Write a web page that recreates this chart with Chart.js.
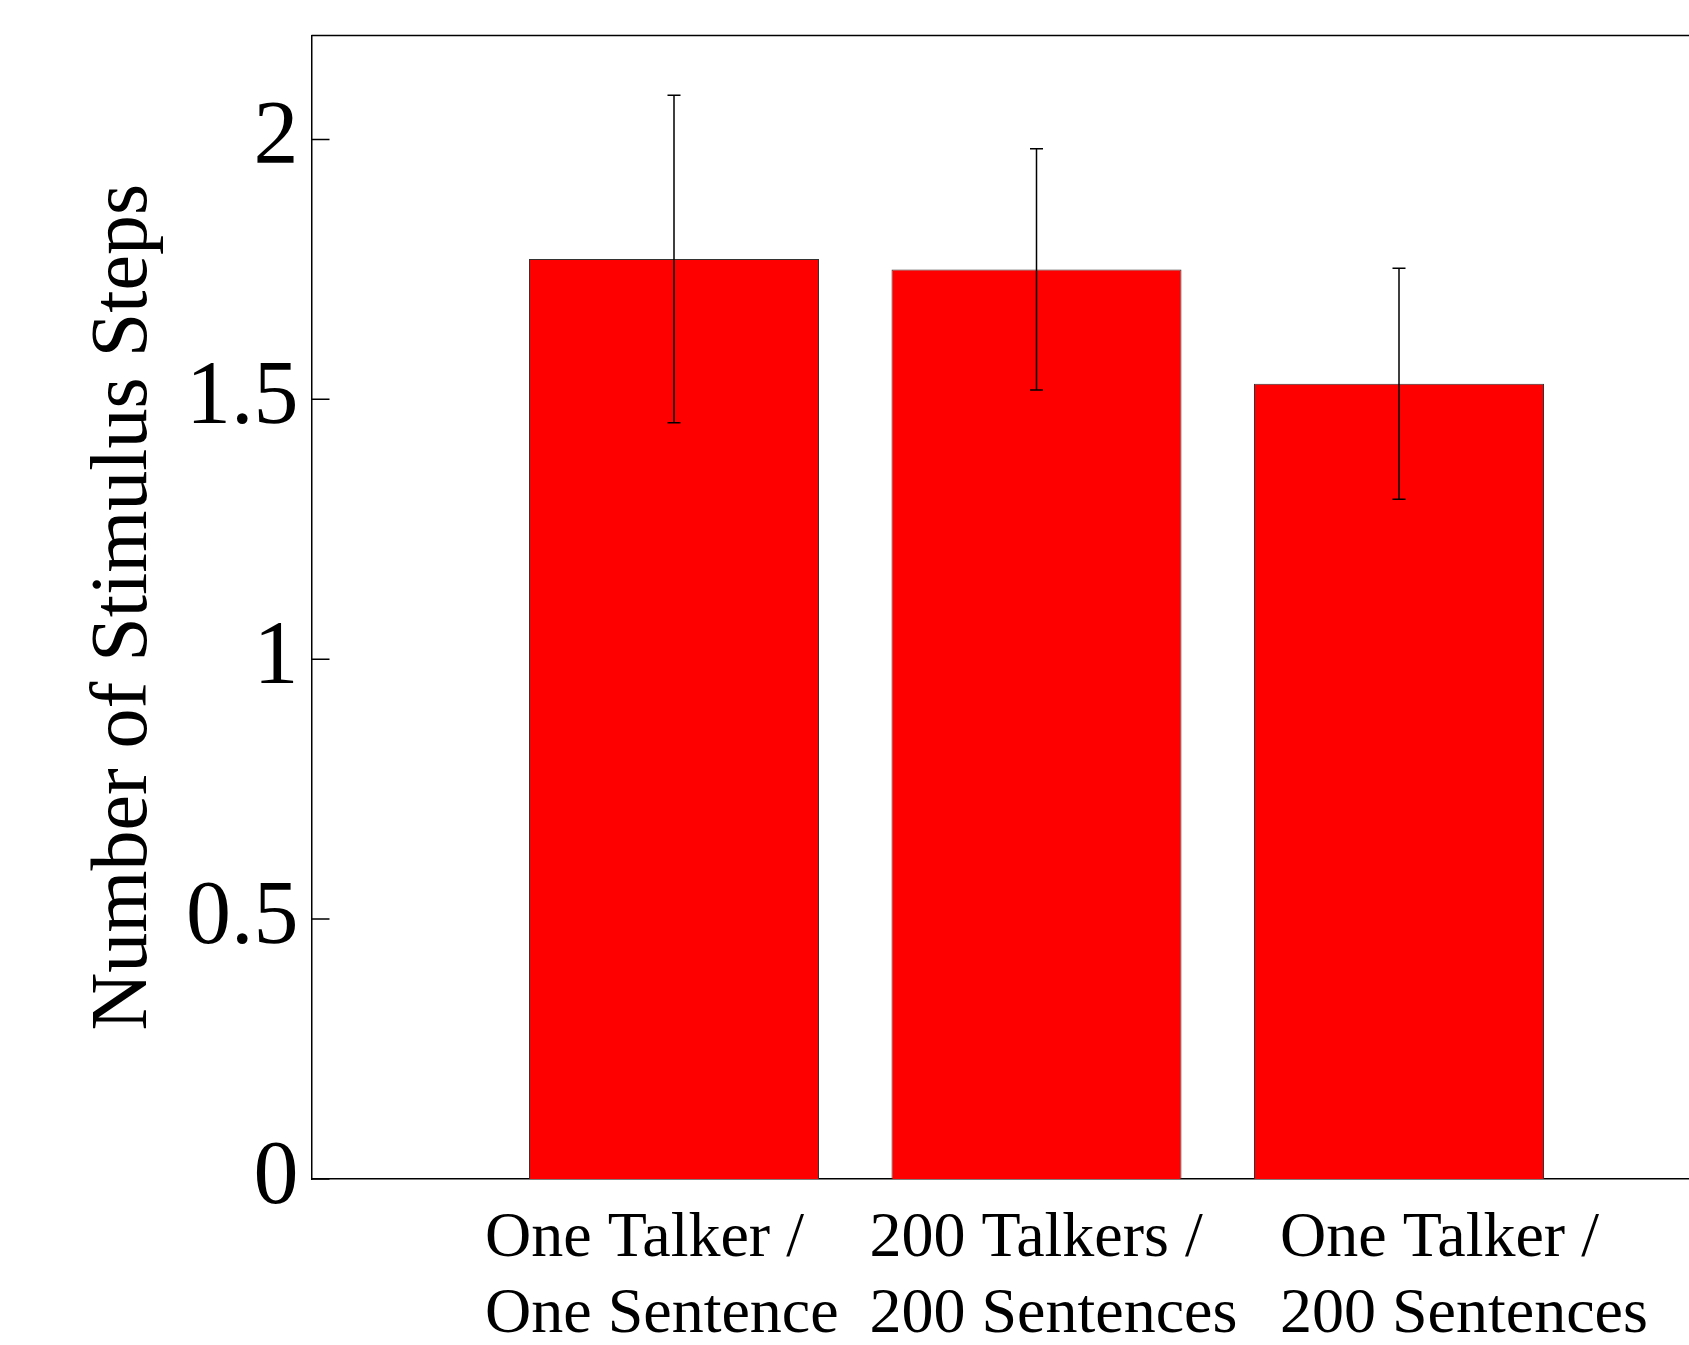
<!DOCTYPE html>
<html>
<head>
<meta charset="utf-8">
<script src="https://cdn.jsdelivr.net/npm/chart.js@4"></script>
<style>
  body { margin: 0; background: #fff; }
  #wrap { width: 1689px; height: 1345px; }
</style>
</head>
<body>
<div id="wrap"><canvas id="chart"></canvas></div>
<script>
// conditions on the x axis, two lines each
let conditions = [
    ["One Talker /", "One Sentence"],
    ["200 Talkers /", "200 Sentences"],
    ["One Talker /", "200 Sentences"]
];
let stepMeans = [1.77, 1.75, 1.53];
let stepErrors = [0.315, 0.232, 0.222];
let yTicks = [0, 0.5, 1, 1.5, 2];
// the condition labels are left aligned blocks, not centred under the bars
let labelShift = [-189, -167, -119];

let serif = "'Liberation Serif', 'Times New Roman', serif";

let extras = {
    id: "extras",
    afterDatasetsDraw: function(chart){
        // error bars
        let ctx = chart.ctx;
        let x = chart.scales.x;
        let y = chart.scales.y;
        ctx.save();
        ctx.strokeStyle = "#000";
        ctx.lineWidth = 1.5;
        for (let i=0;i<stepMeans.length;i++){
            let px = x.getPixelForValue(i+1);
            let top = y.getPixelForValue(stepMeans[i]+stepErrors[i]);
            let bottom = y.getPixelForValue(stepMeans[i]-stepErrors[i]);
            ctx.beginPath();
            ctx.moveTo(px, top); ctx.lineTo(px, bottom);
            ctx.moveTo(px-6.5, top); ctx.lineTo(px+6.5, top);
            ctx.moveTo(px-6.5, bottom); ctx.lineTo(px+6.5, bottom);
            ctx.stroke();
        }
        ctx.restore();
    },
    afterDraw: function(chart){
        // top line of the box, inward y ticks, condition labels
        let ctx = chart.ctx;
        let area = chart.chartArea;
        let x = chart.scales.x;
        let y = chart.scales.y;
        ctx.save();
        ctx.strokeStyle = "#000";
        ctx.lineWidth = 1.5;
        ctx.beginPath();
        ctx.moveTo(area.left, area.top);
        ctx.lineTo(area.right, area.top);
        for (let v of yTicks){
            let py = y.getPixelForValue(v);
            ctx.moveTo(area.left, py);
            ctx.lineTo(area.left+18, py);
        }
        ctx.stroke();

        ctx.fillStyle = "#000";
        ctx.font = "64px " + serif;
        ctx.textAlign = "left";
        ctx.textBaseline = "alphabetic";
        for (let i=0;i<conditions.length;i++){
            let px = x.getPixelForValue(i+1) + labelShift[i];
            let lines = conditions[i];
            for (let j=0;j<lines.length;j++){
                ctx.fillText(lines[j], px, area.bottom + 77 + j*76);
            }
        }
        ctx.restore();
    }
};

let chart = new Chart(document.getElementById("chart"), {
    type: "bar",
    data: {
        datasets: [{
            data: stepMeans.map(function(m, i){ return {x: i+1, y: m}; }),
            backgroundColor: "#ff0000",
            borderColor: "#333333",
            borderWidth: 1,
            categoryPercentage: 0.8,
            barPercentage: 1.0
        }]
    },
    options: {
        responsive: true,
        maintainAspectRatio: false,
        animation: false,
        layout: {padding: {left: 77, top: 0, right: 0, bottom: 166}},
        plugins: {
            legend: {display: false},
            tooltip: {enabled: false}
        },
        scales: {
            x: {
                type: "linear",
                min: 0,
                max: 3.8,
                offset: false,
                afterBuildTicks: function(scale){
                    scale.ticks = conditions.map(function(c, i){ return {value: i+1}; });
                },
                afterFit: function(scale){
                    scale.paddingLeft = 0;
                    scale.paddingRight = 0;
                },
                grid: {display: false, drawTicks: false, offset: false},
                border: {display: true, color: "#000", width: 1.5},
                ticks: {display: false}
            },
            y: {
                min: 0,
                max: 2.2,
                afterBuildTicks: function(scale){
                    scale.ticks = yTicks.map(function(v){ return {value: v}; });
                },
                grid: {display: false, drawTicks: false},
                border: {display: true, color: "#000", width: 1.5},
                ticks: {
                    callback: function(value){ return String(value); },
                    font: {family: serif, size: 90, lineHeight: 0.5},
                    color: "#000",
                    padding: 13
                },
                title: {
                    display: true,
                    text: "Number of Stimulus Steps",
                    font: {family: serif, size: 80},
                    color: "#000",
                    padding: 0
                }
            }
        }
    },
    plugins: [extras]
});
</script>
</body>
</html>
